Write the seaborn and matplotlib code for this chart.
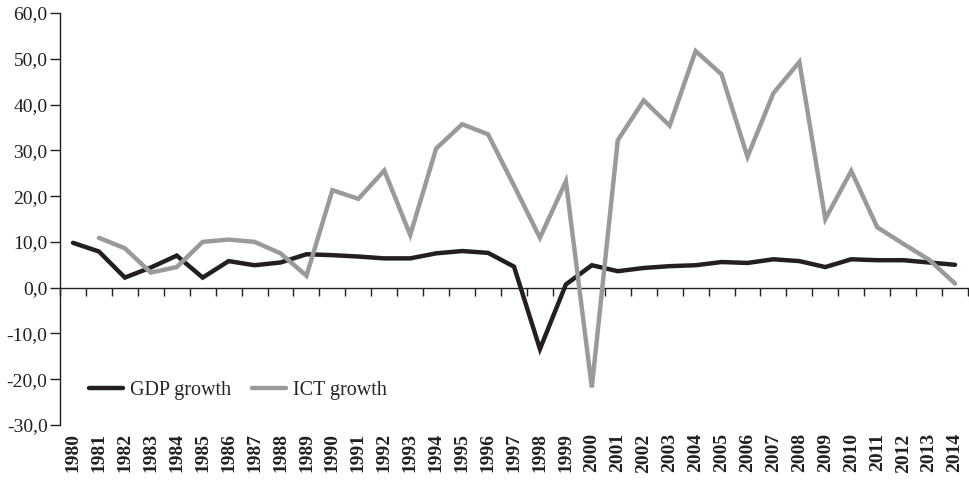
import matplotlib
matplotlib.use("Agg")
import matplotlib.pyplot as plt
import seaborn as sns
import numpy as np

years = list(range(1980, 2015))
gdp = [9.8, 7.9, 2.2, 4.4, 7.0, 2.2, 5.8, 4.9, 5.5, 7.3,
       7.1, 6.8, 6.4, 6.4, 7.5, 8.0, 7.6, 4.6, -13.4, 0.7,
       4.9, 3.6, 4.3, 4.7, 4.9, 5.6, 5.4, 6.2, 5.8, 4.5,
       6.2, 6.0, 6.0, 5.5, 5.0]
ict_years = list(range(1981, 2015))
ict = [10.9, 8.6, 3.3, 4.5, 10.0, 10.5, 10.0, 7.5, 2.6,
       21.3, 19.4, 25.6, 11.5, 30.4, 35.7, 33.5, 22.3, 10.9, 23.2,
       -21.8, 32.2, 40.9, 35.4, 51.7, 46.6, 28.6, 42.5, 49.3, 15.0,
       25.5, 13.2, 9.6, 6.1, 0.9]
yticks = [-30, -20, -10, 0, 10, 20, 30, 40, 50, 60]
ytick_labels = ["-30,0", "-20,0", "-10,0", "0,0", "10,0", "20,0", "30,0", "40,0", "50,0", "60,0"]

sns.set_theme(style="white")
plt.rcParams['font.family'] = ['Liberation Serif', 'DejaVu Serif']

fig = plt.figure(figsize=(9.69, 4.88), dpi=100)
ax = fig.add_axes([60/969, 1-425/488, 908/969, 412/488])

gdp_color = "#231f20"
ict_color = "#9a9a9a"
sns.lineplot(x=years, y=gdp, ax=ax, color=gdp_color, linewidth=3.2, label="GDP growth",
             solid_joinstyle="miter")
sns.lineplot(x=ict_years, y=ict, ax=ax, color=ict_color, linewidth=3.2, label="ICT growth",
             solid_joinstyle="miter")

ax.set_xlim(1979.5, 2014.5)
ax.set_ylim(-30, 60)

for s in ["top", "right", "bottom"]:
    ax.spines[s].set_visible(False)
ax.spines["left"].set_color("#231f20")
ax.spines["left"].set_linewidth(1.0)

ax.set_yticks(yticks)
ax.set_yticklabels(ytick_labels, fontsize=14, color="#231f20")
ax.tick_params(axis="y", direction="out", length=7, width=1, color="#231f20", left=True, pad=2)

ax.set_xticks(years)
ax.set_xticklabels([str(y) for y in years], rotation=90, fontsize=14, fontweight="bold", color="#231f20")
ax.tick_params(axis="x", length=0, pad=6, bottom=True)

sec = ax.secondary_xaxis(1/3)
sec.set_xticks([y - 0.5 for y in years] + [years[-1] + 0.5])
sec.tick_params(axis="x", direction="out", length=6, width=1, color="#231f20", labelbottom=False, labeltop=False)
sec.spines["bottom"].set_color("#231f20")
sec.spines["bottom"].set_linewidth(1.0)
sec.set_xticklabels([])

ax.legend(loc="center left", bbox_to_anchor=(0.012, 0.083), ncol=2, frameon=False,
          fontsize=14.5, handlelength=1.7, handletextpad=0.35, columnspacing=1.0)

fig.savefig("out.png", dpi=100, facecolor="white")
